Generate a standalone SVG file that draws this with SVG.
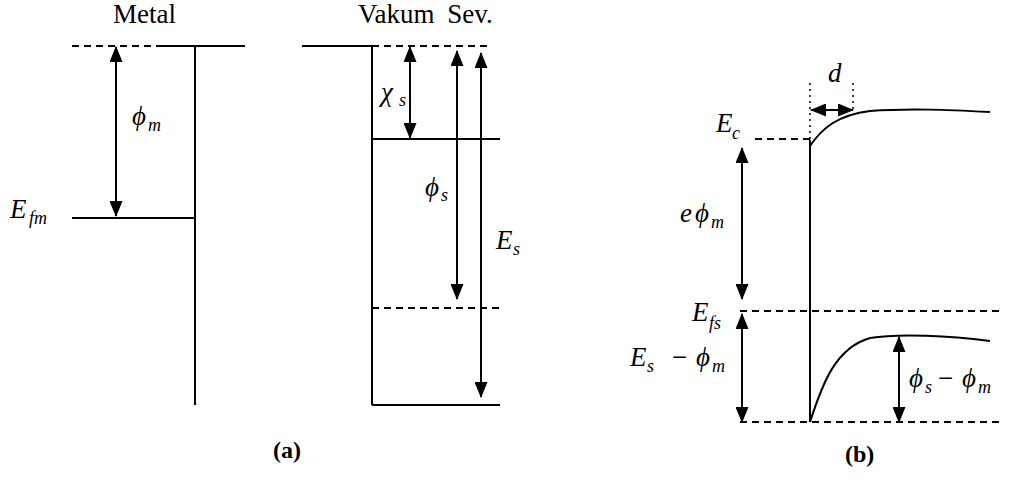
<svg xmlns="http://www.w3.org/2000/svg" width="1009" height="479" viewBox="0 0 1009 479">
<style>
.ln{stroke:#000;stroke-width:2;fill:none}
.ds{stroke:#000;stroke-width:2;fill:none;stroke-dasharray:7 5}
.dt{stroke:#000;stroke-width:1.5;fill:none;stroke-dasharray:2 4}
.ar{stroke:#000;stroke-width:2;fill:none;marker-start:url(#ah);marker-end:url(#ah)}
text{font-family:"Liberation Serif","Times New Roman",serif;fill:#000}
.tt{font-size:27px}
.m{font-size:27px;font-style:italic}
.s{font-size:18px;font-style:italic}
.n{font-size:27px;font-style:normal}
.b{font-size:24px;font-weight:bold}
</style>
<defs>
<marker id="ah" viewBox="0 0 16 13" refX="15" refY="6.5" markerWidth="16" markerHeight="13" markerUnits="userSpaceOnUse" orient="auto-start-reverse">
<path d="M0,0 L16,6.5 L0,13 Z" fill="#000"/>
</marker>
</defs>

<g id="panel-a">
  <g id="metal">
    <text class="tt" x="113" y="23">Metal</text>
    <line class="ds" x1="72" y1="46" x2="158" y2="46"/>
    <line class="ln" x1="158" y1="46" x2="245" y2="46"/>
    <line class="ln" x1="195" y1="46" x2="195" y2="405"/>
    <line class="ln" x1="72" y1="218" x2="195" y2="218"/>
    <text class="m" x="10" y="218">E</text><text class="s" x="29" y="224">fm</text>
    <text class="m" x="132" y="125">ϕ</text><text class="s" x="148" y="131">m</text>
  </g>
  <g id="semiconductor">
    <text class="tt" x="358" y="23" word-spacing="6">Vakum Sev.</text>
    <line class="ln" x1="302" y1="46" x2="372" y2="46"/>
    <line class="ds" x1="372" y1="46" x2="488" y2="46"/>
    <line class="ln" x1="372" y1="46" x2="372" y2="405"/>
    <line class="ln" x1="372" y1="139" x2="500" y2="139"/>
    <line class="ds" x1="372" y1="308" x2="500" y2="308"/>
    <line class="ln" x1="372" y1="405" x2="500" y2="405"/>
    <text class="m" x="381" y="101">χ</text><text class="s" x="399" y="106">s</text>
    <text class="m" x="425" y="196">ϕ</text><text class="s" x="441" y="201">s</text>
    <text class="m" x="496" y="249">E</text><text class="s" x="513" y="255">s</text>
  </g>
  <text id="label-a" class="b" x="273" y="458">(a)</text>
</g>

<g id="panel-b">
  <g id="interface">
    <line class="dt" x1="810" y1="83" x2="810" y2="140"/>
    <line class="ln" x1="810" y1="140" x2="810" y2="422"/>
    <line class="dt" x1="853" y1="83" x2="853" y2="110"/>
    <line class="ds" x1="755" y1="139" x2="810" y2="139"/>
    <line class="ds" x1="740" y1="311" x2="1002" y2="311"/>
    <line class="ds" x1="740" y1="422" x2="1002" y2="422"/>
    <path class="ln" d="M810,146 C822,128 838,115 870,111 C910,108 950,110 990,112"/>
    <path class="ln" d="M810,422 C822,385 835,348 870,338 C900,333 950,336 990,341"/>
  </g>
  <g id="labels-b">
    <text class="m" x="828" y="82">d</text>
    <text class="m" x="716" y="132">E</text><text class="s" x="732" y="139">c</text>
    <text class="m" x="680" y="222">e</text><text class="m" x="695" y="222">ϕ</text><text class="s" x="711" y="228">m</text>
    <text class="m" x="692" y="321">E</text><text class="s" x="709" y="329">fs</text>
    <text class="m" x="630" y="366">E</text><text class="s" x="647" y="372">s</text><text class="n" x="672" y="366">−</text><text class="m" x="696" y="366">ϕ</text><text class="s" x="712" y="372">m</text>
    <text class="m" x="909" y="387">ϕ</text><text class="s" x="925" y="393">s</text><text class="n" x="938" y="387">−</text><text class="m" x="962" y="387">ϕ</text><text class="s" x="978" y="393">m</text>
  </g>
  <text id="label-b" class="b" x="845" y="462">(b)</text>
</g>

<g id="connectors">
  <line class="ar" x1="116" y1="47" x2="116" y2="216"/>
  <line class="ar" x1="410" y1="47" x2="410" y2="138"/>
  <line class="ar" x1="457" y1="51" x2="457" y2="299"/>
  <line class="ar" x1="481" y1="53" x2="481" y2="397"/>
  <line class="ar" x1="811" y1="110" x2="853" y2="110"/>
  <line class="ar" x1="742" y1="148" x2="742" y2="299"/>
  <line class="ar" x1="742" y1="314" x2="742" y2="422"/>
  <line class="ar" x1="899" y1="337" x2="899" y2="422"/>
</g>
</svg>
